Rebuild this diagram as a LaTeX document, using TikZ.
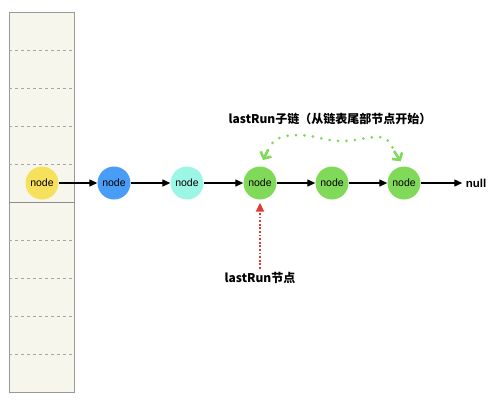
\documentclass[tikz,border=0pt]{standalone}
\usepackage{fontspec}
\setmainfont{Liberation Sans}
\newfontfamily\cjk{Noto Sans CJK SC}
\usetikzlibrary{arrows.meta}
\definecolor{bucketfill}{HTML}{F6F6EC}
\definecolor{yellownode}{HTML}{F6E05C}
\definecolor{bluenode}{HTML}{4A9DF6}
\definecolor{cyannode}{HTML}{9CF6E5}
\definecolor{greennode}{HTML}{80D958}
\definecolor{redarrow}{HTML}{E03B30}
\tikzset{
  entry/.style={circle, minimum size=33pt, inner sep=0pt, font=\fontsize{10.5}{11}\selectfont},
  link/.style={line width=1.3pt, -{Triangle[length=8pt,width=7pt]}},
  tag/.style={font=\cjk\bfseries\fontsize{12}{14}\selectfont},
  greentip/.style={greennode, line width=2.6pt, -{Straight Barb[length=5pt,width=12pt]}}
}
\begin{document}
\begin{tikzpicture}[x=1pt,y=-1pt]
				\useasboundingbox (0,0) rectangle (498,400);
				\filldraw[fill=bucketfill, draw=black!40] (9,12) rectangle (74,392);
				\foreach \y in {50,88,126,164,240,278,316,354}
				  \draw[black!35, dashed, thin] (9,\y) -- (74,\y);
				\draw[black!45] (9,202) -- (74,202);
				\node[entry, fill=yellownode] (n1) at (42,183){node};
				\node[entry, fill=bluenode] (n2) at (114,183){node};
				\node[entry, fill=cyannode] (n3) at (187,183){node};
				\node[entry, fill=greennode] (g1) at (260,183){node};
				\node[entry, fill=greennode] (g2) at (332,183){node};
				\node[entry, fill=greennode] (g3) at (404,183){node};
				\node[font=\bfseries\fontsize{11.5}{14}\selectfont] (tail) at (476,183){null};
				\draw[link] (n1) -- (n2);
				\draw[link] (n2) -- (n3);
				\draw[link] (n3) -- (g1);
				\draw[link] (g1) -- (g2);
				\draw[link] (g2) -- (g3);
				\draw[link] (g3) -- (tail);
				\node[tag] (sub) at (330,119){lastRun子链（从链表尾部节点开始）};
				\coordinate (tipL) at (268,150);
				\coordinate (tipR) at (394,151);
				\coordinate (arcA) at (298,135);
				\coordinate (arcB) at (342,141);
				\coordinate (arcC) at (380,137);
				\draw[greennode, line width=3pt, dash pattern=on 0pt off 8.5pt, line cap=round]
				  (tipL) to[out=70, in=180] (arcA) to[out=0, in=180] (arcB)
				  to[out=0, in=180] (arcC) to[out=0, in=110] (tipR);
				\draw[greentip, shorten >=7pt] (tipL) -- (g1.north);
				\draw[greentip, shorten >=6pt] (tipR) -- (g3.north);
				\node[tag] (last) at (260,278){lastRun节点};
				\draw[redarrow, line width=1.8pt, dash pattern=on 1.8pt off 1.8pt, -{Triangle[length=9pt,width=8pt]}, shorten >=3pt]
				  (last.north) -- (g1.south);
				\end{tikzpicture}
\end{document}
